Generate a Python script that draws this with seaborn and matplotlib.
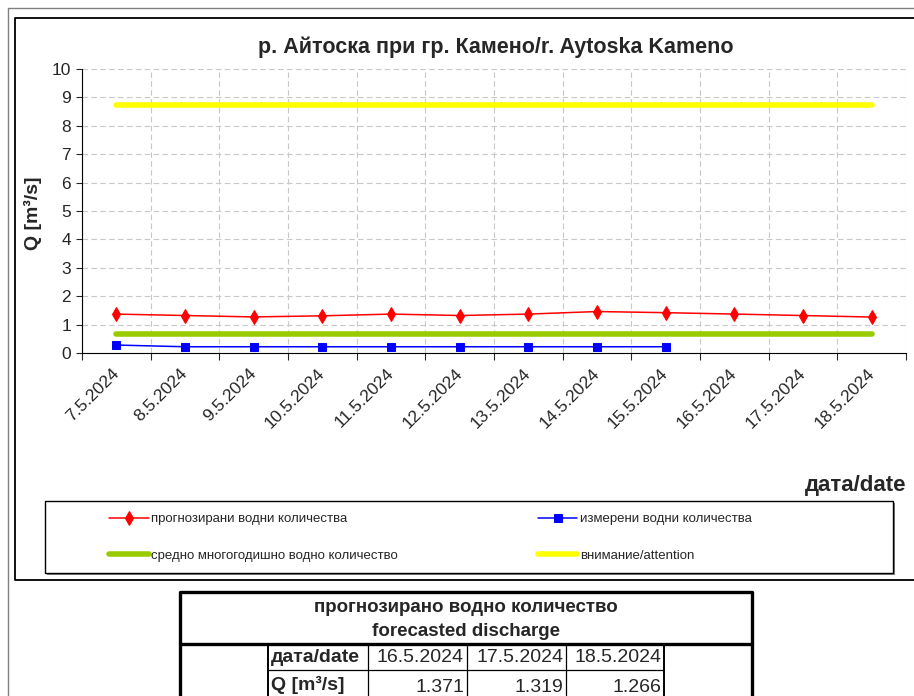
import numpy as np
import pandas as pd
import matplotlib
matplotlib.use("Agg")
import matplotlib.pyplot as plt
import seaborn as sns
from matplotlib.patches import Rectangle

# chart data
dates = ["7.5.2024", "8.5.2024", "9.5.2024", "10.5.2024", "11.5.2024", "12.5.2024",
         "13.5.2024", "14.5.2024", "15.5.2024", "16.5.2024", "17.5.2024", "18.5.2024"]
forecast = [1.37, 1.32, 1.27, 1.31, 1.37, 1.32, 1.37, 1.46, 1.42, 1.371, 1.319, 1.266]
measured = [0.28, 0.22, 0.22, 0.22, 0.22, 0.22, 0.22, 0.22, 0.22]
mean_q = 0.68
attention_q = 8.72

title = "р. Айтоска при гр. Камено/r. Aytoska Kameno"
legend_labels = ["прогнозирани водни количества", "измерени водни количества",
                 "средно многогодишно водно количество", "внимание/attention"]

W, H = 914, 696


def fx(px):
    return px / W


def fy(py):
    return 1 - py / H


sns.set_style("white")
plt.rcParams['font.family'] = ['Liberation Sans', 'DejaVu Sans']

fig = plt.figure(figsize=(W / 100, H / 100), dpi=100)
fig.patch.set_facecolor("white")

# main plot area
ax = fig.add_axes([fx(82), fy(353), (906 - 82) / W, (353 - 69) / H])
idx = np.arange(len(dates))

df = pd.DataFrame({"pos": idx, "forecast": forecast,
                   "mean": [mean_q] * len(dates), "attention": [attention_q] * len(dates)})
dm = pd.DataFrame({"pos": idx[:len(measured)], "measured": measured})

sns.lineplot(data=df, x="pos", y="attention", ax=ax, color="#FFFF00", lw=4,
             solid_capstyle="round")
sns.lineplot(data=df, x="pos", y="mean", ax=ax, color="#99CC00", lw=4,
             solid_capstyle="round")
sns.lineplot(data=df, x="pos", y="forecast", ax=ax, color="#FF0000", lw=1.1,
             marker="d", markersize=7, markeredgecolor="#FF0000")
sns.lineplot(data=dm, x="pos", y="measured", ax=ax, color="#0000FF", lw=1.1,
             marker="s", markersize=6, markeredgecolor="#0000FF")

h_att, h_mean, h_fc, h_meas = ax.lines[:4]

ax.set_xlim(-0.5, len(dates) - 0.5)
ax.set_ylim(0, 10)
ax.set_yticks(range(0, 11))
ax.set_xticks(idx)
ax.set_xticklabels(dates, rotation=45, ha="right", va="center", rotation_mode="anchor")
ax.set_xticks(np.arange(-0.5, len(dates)), minor=True)
ax.set_xlabel("")
ax.set_ylabel("")

ax.tick_params(axis="x", which="major", length=0, pad=13, labelsize=12.5)
ax.tick_params(axis="x", which="minor", length=5, width=0.8, direction="out", bottom=True)
ax.tick_params(axis="y", length=4, width=0.8, direction="out", left=True, labelsize=12.5, pad=4)

ax.grid(False)
ax.grid(axis="y", which="major", color="#c8c8c8", ls=(0, (5, 3)), lw=0.8)
ax.grid(axis="x", which="minor", color="#c8c8c8", ls=(0, (5, 3)), lw=0.8)
ax.set_axisbelow(True)
for side in ["top", "right"]:
    ax.spines[side].set_visible(False)
for side in ["left", "bottom"]:
    ax.spines[side].set_color("black")
    ax.spines[side].set_linewidth(0.8)

# texts
fig.text(fx(496), fy(47), title, ha="center", va="center", fontsize=15.5, fontweight="bold")
fig.text(fx(33), fy(213), "Q [m³/s]", ha="center", va="center", rotation=90,
         fontsize=14, fontweight="bold")
fig.text(fx(906), fy(485), "дата/date", ha="right", va="center", fontsize=16, fontweight="bold")

# overlay for frames, legend box and table (pixel coordinates)
ov = fig.add_axes([0, 0, 1, 1], zorder=-1)
ov.set_xlim(0, W)
ov.set_ylim(H, 0)
ov.axis("off")

ov.plot([8, 8], [8, H], color="#808080", lw=1)
ov.plot([8, W], [8, 8], color="#808080", lw=1)
ov.plot([W + 5, 15, 15, W + 5], [18, 18, 580, 580], color="black", lw=1.3)

# legend box with shadow
ov.add_patch(Rectangle((47, 503), 848, 72, facecolor="#808080", edgecolor="none"))
ov.add_patch(Rectangle((45, 501), 848, 72, facecolor="white", edgecolor="black", lw=1))

fig.legend([h_fc, h_mean, h_meas, h_att],
           [legend_labels[0], legend_labels[2], legend_labels[1], legend_labels[3]],
           ncol=2, loc="upper left", bbox_to_anchor=(fx(109), fy(513)),
           frameon=False, fontsize=9.5, handlelength=3.0, handletextpad=0.2,
           labelspacing=1.85, columnspacing=10.6, borderpad=0, borderaxespad=0)

# forecast table
tab_dates = dates[-3:]
tab_vals = forecast[-3:]
cols = [180, 268, 368, 467, 566, 664, 752]
top, head_bot, row_line, bot = 592, 644, 670, 700

ov.plot([cols[0], cols[0], cols[-1], cols[-1]], [bot, top, top, bot], color="black", lw=2.4)
ov.plot([cols[0], cols[-1]], [head_bot, head_bot], color="black", lw=2.4)
for c in [cols[1], cols[5]]:
    ov.plot([c, c], [head_bot, bot], color="black", lw=1.4)
for c in cols[2:5]:
    ov.plot([c, c], [head_bot, bot], color="black", lw=0.9)
ov.plot([cols[1], cols[5]], [row_line, row_line], color="black", lw=0.9)

ov.text((cols[0] + cols[-1]) / 2, 607, "прогнозирано водно количество", ha="center",
        va="center", fontsize=13.5, fontweight="bold")
ov.text((cols[0] + cols[-1]) / 2, 632, "forecasted discharge", ha="center",
        va="center", fontsize=13.5, fontweight="bold")
ov.text(cols[1] + 3, 658, "дата/date", ha="left", va="center", fontsize=14, fontweight="bold")
ov.text(cols[1] + 3, 685, "Q [m³/s]", ha="left", va="center", fontsize=14, fontweight="bold")
for i, (d, v) in enumerate(zip(tab_dates, tab_vals)):
    ov.text(cols[i + 3] - 3, 658, d, ha="right", va="center", fontsize=14)
    ov.text(cols[i + 3] - 3, 688, f"{v:.3f}", ha="right", va="center", fontsize=14)

fig.savefig("out.png", dpi=100, facecolor="white")
